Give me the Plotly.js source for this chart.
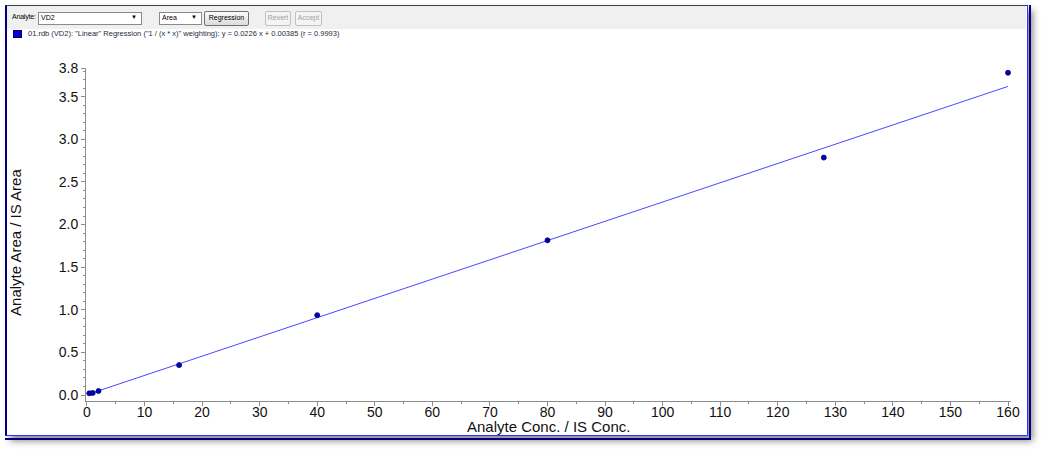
<!DOCTYPE html>
<html>
<head>
<meta charset="utf-8">
<script src="https://cdn.plot.ly/plotly-3.0.1.min.js"></script>
<style>
  html, body { margin:0; padding:0; background:#ffffff; width:1049px; height:458px; overflow:hidden; }
  #frame { position:absolute; left:5px; top:5px; width:1020px; height:429px;
           border-left:2px solid #000080; border-top:1px solid #404040;
           border-right:1px solid #3030ff; border-bottom:1px solid #3030ff;
           box-shadow: 5px 5px 7px rgba(0,0,0,0.45); background:#fff; }
  #frame2 { position:absolute; left:5px; top:5px; width:1024px; height:433px;
            border-right:2px solid #000080; border-bottom:2px solid #000080; box-sizing:content-box; pointer-events:none; }
  #toolbar { position:absolute; left:7px; top:6px; width:1019px; height:23px; background:#f0f0f0; }
  .tb { position:absolute; font-family:"Liberation Sans", Arial, sans-serif; font-size:7px; color:#000; }
  .box { position:absolute; background:#fff; border:1px solid #8a8a8a; box-sizing:border-box; }
  .btn { position:absolute; background:linear-gradient(#fafafa,#dcdcdc); border:1px solid #707070; border-radius:2px; box-sizing:border-box; text-align:center; }
  .dis { position:absolute; background:#f4f4f4; border:1px solid #c0c0c0; border-radius:2px; box-sizing:border-box; text-align:center; color:#a0a0a0; }
  #legsq { position:absolute; left:13px; top:30px; width:7px; height:6px; background:#0000e0; border:1px solid #000060; }
  #legtxt { position:absolute; left:28px; top:29px; font-family:"Liberation Sans", Arial, sans-serif; font-size:7.5px; color:#1c2c40; white-space:nowrap; }
  #chart { position:absolute; left:0; top:0; width:1049px; height:458px; }
</style>
</head>
<body>
<div id="frame"></div>
<div id="frame2"></div>
<div id="toolbar"></div>
<div class="tb" style="left:12px; top:13px; letter-spacing:-0.2px;">Analyte:</div>
<div class="box tb" style="left:38px; top:12px; width:104px; height:13px; padding:1px 0 0 2px;">VD2<span style="position:absolute; right:4px; top:1px; font-size:6px;">&#9660;</span></div>
<div class="box tb" style="left:159px; top:12px; width:43px; height:13px; padding:1px 0 0 2px;">Area<span style="position:absolute; right:4px; top:1px; font-size:6px;">&#9660;</span></div>
<div class="btn tb" style="left:204px; top:11px; width:45px; height:15px; padding-top:2px;">Regression</div>
<div class="dis tb" style="left:265px; top:11px; width:26px; height:15px; padding-top:2px;">Revert</div>
<div class="dis tb" style="left:295px; top:11px; width:27px; height:15px; padding-top:2px;">Accept</div>
<div id="legsq"></div>
<div id="legtxt">01.rdb (VD2): "Linear" Regression ("1 / (x * x)" weighting): y = 0.0226 x + 0.00385 (r = 0.9993)</div>
<div id="chart"></div>
<script>
// Calibration points (Analyte Conc. / IS Conc. vs Analyte Area / IS Area)
const concRatio = [0.4, 1, 2, 16, 40, 80, 128, 160];
const areaRatio = [0.020, 0.025, 0.047, 0.351, 0.937, 1.815, 2.785, 3.78];
// Regression line end points
const fitX = [0.4, 160];
const fitY = [0.0129, 3.620];
// Axis tick labels
const yTickVals = [0, 0.5, 1.0, 1.5, 2.0, 2.5, 3.0, 3.5, 3.836];
const yTickText = ['0.0', '0.5', '1.0', '1.5', '2.0', '2.5', '3.0', '3.5', '3.8'];
const xTickVals = [0, 10, 20, 30, 40, 50, 60, 70, 80, 90, 100, 110, 120, 130, 140, 150, 160];
const xTitle = 'Analyte Conc. / IS Conc.';
const yTitle = 'Analyte Area / IS Area';

const font = {family: '"Liberation Sans", Arial, sans-serif', size: 14, color: '#111111'};
const titleFont = {family: font.family, size: 15, color: '#111111'};

const traces = [
  {x: fitX, y: fitY, mode: 'lines', type: 'scatter',
   line: {color: '#4848ff', width: 1}, hoverinfo: 'skip', showlegend: false},
  {x: concRatio, y: areaRatio, mode: 'markers', type: 'scatter',
   marker: {color: '#0000c8', size: 5, line: {color: '#000060', width: 0.8}}, showlegend: false}
];

const layout = {
  width: 1049, height: 458,
  margin: {l: 86, r: 38, t: 68, b: 57, pad: 0},
  paper_bgcolor: 'rgba(0,0,0,0)', plot_bgcolor: 'rgba(0,0,0,0)',
  font: font,
  showlegend: false,
  xaxis: {
    range: [-0.17, 160.52], showgrid: false, zeroline: false,
    showline: true, linecolor: '#8c8c8c', linewidth: 1,
    tickmode: 'array', tickvals: xTickVals,
    ticks: 'outside', ticklen: 4, tickcolor: '#8c8c8c', tickwidth: 1,
    ticklabelstandoff: -6,
    minor: {tickmode: 'linear', tick0: 0, dtick: 5, ticks: 'outside', ticklen: 2, tickcolor: '#8c8c8c'},
    tickfont: font
  },
  yaxis: {
    range: [-0.07, 3.836], showgrid: false, zeroline: false,
    showline: true, linecolor: '#8c8c8c', linewidth: 1,
    tickmode: 'array', tickvals: yTickVals, ticktext: yTickText,
    ticks: 'outside', ticklen: 4, tickcolor: '#8c8c8c', tickwidth: 1,
    minor: {tickmode: 'linear', tick0: 0, dtick: 0.1, ticks: 'outside', ticklen: 2, tickcolor: '#8c8c8c'},
    tickfont: font
  },
  annotations: [
    {text: xTitle, xref: 'paper', yref: 'paper', x: 0.5, y: -0.078,
     xanchor: 'center', yanchor: 'middle', showarrow: false, font: titleFont},
    {text: yTitle, xref: 'paper', yref: 'paper', x: -0.0757, y: 0.4775, textangle: -90,
     xanchor: 'center', yanchor: 'middle', showarrow: false, font: titleFont}
  ]
};

Plotly.newPlot('chart', traces, layout, {displayModeBar: false, staticPlot: true});
</script>
</body>
</html>
